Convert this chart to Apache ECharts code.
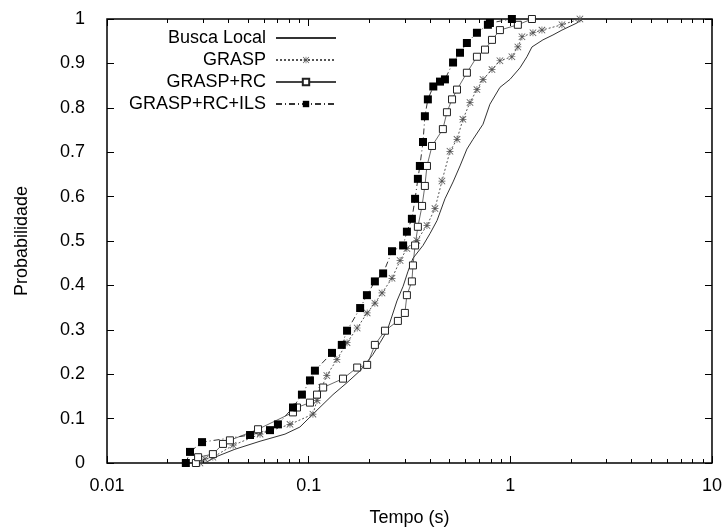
<!DOCTYPE html>
<html>
<head>
<meta charset="utf-8">
<script src="https://cdn.jsdelivr.net/npm/echarts@6/dist/echarts.min.js"></script>
<style>
  html, body { margin: 0; padding: 0; background: #fff; }
  #chart { width: 725px; height: 532px; }
</style>
</head>
<body>
<div id="chart"></div>
<script>
const seriesNames = ['Busca Local', 'GRASP', 'GRASP+RC', 'GRASP+RC+ILS']

// tempo (s) / probabilidade acumulada
const buscaLocalTempo = [0.0306, 0.0343, 0.0431, 0.0574, 0.0763, 0.0905, 0.110, 0.132, 0.155, 0.180, 0.208, 0.226, 0.245, 0.259, 0.274, 0.294, 0.311, 0.329, 0.369, 0.400, 0.433, 0.474, 0.520, 0.563, 0.609, 0.653, 0.732, 0.792, 0.888, 0.996, 1.116, 1.209, 1.280, 1.451, 1.627, 1.803, 2.139, 2.291]
const buscaLocalProb = [0, 0.013, 0.031, 0.049, 0.065, 0.081, 0.119, 0.154, 0.181, 0.208, 0.244, 0.271, 0.298, 0.331, 0.365, 0.398, 0.432, 0.461, 0.490, 0.517, 0.546, 0.595, 0.633, 0.669, 0.707, 0.729, 0.763, 0.808, 0.846, 0.864, 0.890, 0.915, 0.937, 0.953, 0.964, 0.975, 0.991, 1]

const graspTempo = [0.0289, 0.0306, 0.0335, 0.0422, 0.0574, 0.0808, 0.105, 0.110, 0.116, 0.123, 0.138, 0.155, 0.174, 0.195, 0.213, 0.231, 0.259, 0.284, 0.307, 0.344, 0.386, 0.423, 0.458, 0.502, 0.544, 0.582, 0.631, 0.683, 0.732, 0.811, 0.888, 1.018, 1.090, 1.142, 1.295, 1.435, 1.803, 2.214]
const graspProb = [0, 0.009, 0.013, 0.040, 0.065, 0.087, 0.110, 0.141, 0.170, 0.197, 0.233, 0.271, 0.304, 0.338, 0.360, 0.383, 0.416, 0.456, 0.483, 0.501, 0.535, 0.573, 0.635, 0.702, 0.729, 0.774, 0.812, 0.841, 0.864, 0.886, 0.906, 0.915, 0.937, 0.960, 0.969, 0.975, 0.987, 1]

const graspRcTempo = [0.0276, 0.0283, 0.0335, 0.0376, 0.0407, 0.0561, 0.0836, 0.0875, 0.1015, 0.110, 0.118, 0.148, 0.174, 0.195, 0.213, 0.239, 0.277, 0.300, 0.307, 0.325, 0.329, 0.337, 0.348, 0.365, 0.377, 0.386, 0.409, 0.463, 0.485, 0.514, 0.544, 0.609, 0.683, 0.749, 0.811, 0.888, 1.090, 1.280]
const graspRcProb = [0, 0.013, 0.020, 0.043, 0.051, 0.076, 0.114, 0.125, 0.136, 0.154, 0.170, 0.190, 0.215, 0.221, 0.266, 0.298, 0.320, 0.338, 0.378, 0.409, 0.445, 0.490, 0.532, 0.579, 0.624, 0.669, 0.714, 0.752, 0.790, 0.819, 0.841, 0.879, 0.915, 0.931, 0.953, 0.975, 0.987, 1]

const graspRcIlsTempo = [0.0246, 0.0258, 0.0296, 0.0512, 0.0643, 0.0704, 0.0836, 0.0926, 0.1015, 0.1074, 0.1305, 0.146, 0.155, 0.180, 0.1945, 0.213, 0.234, 0.259, 0.294, 0.307, 0.325, 0.337, 0.348, 0.356, 0.369, 0.377, 0.390, 0.415, 0.448, 0.474, 0.520, 0.563, 0.609, 0.683, 0.774, 0.792, 1.018]
const graspRcIlsProb = [0, 0.025, 0.047, 0.063, 0.074, 0.087, 0.125, 0.154, 0.186, 0.208, 0.248, 0.266, 0.298, 0.349, 0.378, 0.409, 0.427, 0.477, 0.490, 0.521, 0.550, 0.595, 0.640, 0.669, 0.723, 0.781, 0.819, 0.848, 0.859, 0.864, 0.902, 0.924, 0.946, 0.969, 0.987, 0.991, 1]

const tempoMajorTicks = [0.01, 0.1, 1, 10]
const tempoMinorTicks = [0.02, 0.03, 0.04, 0.05, 0.06, 0.07, 0.08, 0.09, 0.2, 0.3, 0.4, 0.5, 0.6, 0.7, 0.8, 0.9, 2, 3, 4, 5, 6, 7, 8, 9]

const FONT = '"Liberation Sans", Arial, sans-serif'
const asterisk = 'path://M4.5,0h1v10h-1z M0,4.5h10v1h-10z M0,0.8L0.8,0L10,9.2L9.2,10z M9.2,0L10,0.8L0.8,10L0,9.2z'

const zip = (xs, ys) => xs.map((x, i) => [x, ys[i]])

const tickAxis = (position, values, len, extra) => Object.assign({
    type: 'log',
    logBase: 10,
    min: 0.01,
    max: 10,
    position: position,
    axisLine: { show: false },
    axisTick: { show: true, inside: true, length: len, customValues: values, lineStyle: { color: '#000', width: 1 } },
    axisLabel: { show: false },
    splitLine: { show: false },
}, extra || {})

const chart = echarts.init(document.getElementById('chart'))

const option = {
    backgroundColor: '#fff',
    animation: false,
    grid: {
        left: 107,
        right: 13,
        top: 19,
        bottom: 66,
        show: true,
        borderColor: '#000',
        borderWidth: 1.5,
        backgroundColor: 'transparent',
    },
    legend: {
        orient: 'vertical',
        align: 'right',
        right: 388,
        top: 29,
        padding: 0,
        itemWidth: 60,
        itemHeight: 8,
        itemGap: 4,
        data: [
            { name: 'Busca Local', itemStyle: { opacity: 0 } },
            'GRASP',
            'GRASP+RC',
            'GRASP+RC+ILS',
        ],
        textStyle: { fontFamily: FONT, fontSize: 18, color: '#000', padding: [0, 5, 0, 0] },
    },
    xAxis: [
        tickAxis('bottom', tempoMajorTicks, 7, {
            name: 'Tempo (s)',
            nameLocation: 'middle',
            nameGap: 46,
            nameTextStyle: { fontFamily: FONT, fontSize: 18, color: '#000' },
            axisLabel: {
                show: true,
                margin: 14,
                fontFamily: FONT,
                fontSize: 18,
                color: '#000',
                customValues: tempoMajorTicks,
                formatter: (v) => String(v),
            },
        }),
        tickAxis('bottom', tempoMinorTicks, 4),
        tickAxis('top', tempoMajorTicks, 7),
        tickAxis('top', tempoMinorTicks, 4),
    ],
    yAxis: [
        {
            type: 'value',
            min: 0,
            max: 1,
            interval: 0.1,
            position: 'left',
            name: 'Probabilidade',
            nameLocation: 'middle',
            nameGap: 76,
            nameTextStyle: { fontFamily: FONT, fontSize: 18, color: '#000' },
            axisLine: { show: false },
            axisTick: { show: true, inside: true, length: 7, lineStyle: { color: '#000' } },
            axisLabel: { margin: 22, fontFamily: FONT, fontSize: 18, color: '#000' },
            splitLine: { show: false },
        },
        {
            type: 'value',
            min: 0,
            max: 1,
            interval: 0.1,
            position: 'right',
            axisLine: { show: false },
            axisTick: { show: true, inside: true, length: 7, lineStyle: { color: '#000' } },
            axisLabel: { show: false },
            splitLine: { show: false },
        },
    ],
    series: [
        {
            name: 'Busca Local',
            type: 'line',
            data: zip(buscaLocalTempo, buscaLocalProb),
            showSymbol: false,
            symbol: 'none',
            lineStyle: { color: '#333', width: 1 },
            itemStyle: { color: '#333' },
        },
        {
            name: 'GRASP',
            type: 'line',
            data: zip(graspTempo, graspProb),
            symbol: asterisk,
            symbolSize: 7,
            lineStyle: { color: '#555', width: 1, type: [2, 2] },
            itemStyle: { color: '#555' },
        },
        {
            name: 'GRASP+RC',
            type: 'line',
            data: zip(graspRcTempo, graspRcProb),
            symbol: 'rect',
            symbolSize: 7,
            lineStyle: { color: '#444', width: 0.8 },
            itemStyle: { color: '#fff', borderColor: '#222', borderWidth: 1 },
        },
        {
            name: 'GRASP+RC+ILS',
            type: 'line',
            data: zip(graspRcIlsTempo, graspRcIlsProb),
            symbol: 'rect',
            symbolSize: 8,
            lineStyle: { color: '#333', width: 1, type: [6, 3, 1, 3] },
            itemStyle: { color: '#000' },
        },
    ],
}

chart.setOption(option)
</script>
</body>
</html>
